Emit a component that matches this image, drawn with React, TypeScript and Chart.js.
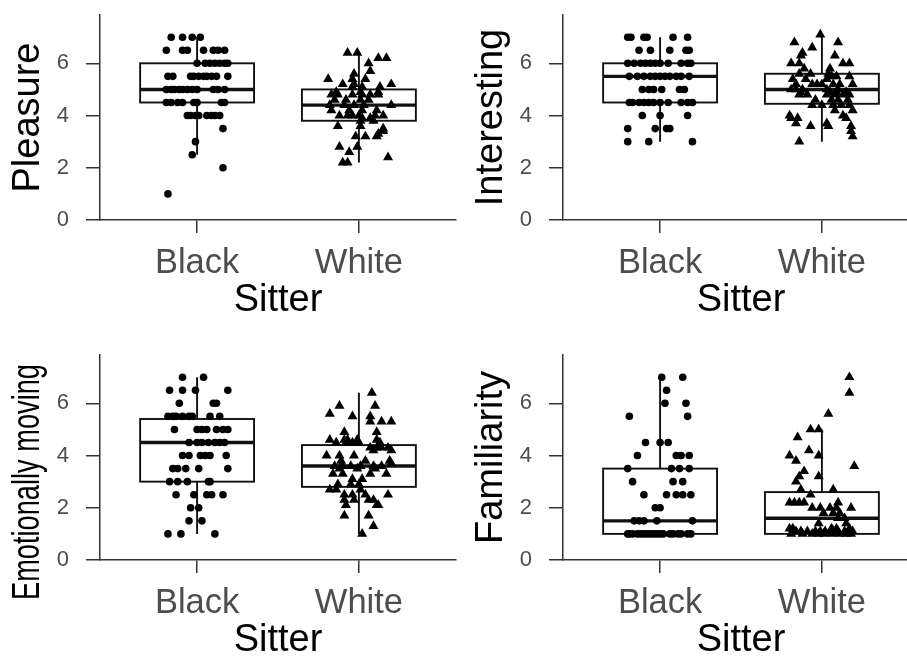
import React, { useEffect, useRef } from "react";
import { Chart, registerables } from "chart.js";
Chart.register(...registerables);

// ---------- data ----------
const categories = ["Black", "White"];
const categoryValues = [1, 2];
const yTickValues = [0, 2, 4, 6];
const xAxisTitle = "Sitter";
const panelTitles = ["Pleasure", "Interesting", "Emotionally moving", "Familiarity"];

// box stats: [lower whisker, q1, median, q3, upper whisker]
const pleasureBoxBlack = [2.5, 4.5, 5, 6, 7];
const pleasureBoxWhite = [2.2, 3.8, 4.4, 5.0, 6.4];
const interestingBoxBlack = [3, 4.5, 5.5, 6, 7];
const interestingBoxWhite = [3.0, 4.45, 5.0, 5.6, 7.1];
const emotionBoxBlack = [1, 3, 4.5, 5.4, 7];
const emotionBoxWhite = [1.0, 2.8, 3.6, 4.4, 6.4];
const familiarityBoxBlack = [1, 1, 1.5, 3.5, 7];
const familiarityBoxWhite = [1, 1, 1.6, 2.6, 5.0];

// jittered points: [value, jitter offsets from category centre]
type Rows = [number, number[]][];
const pleasureBlack: Rows = [
  [7, [-0.16, -0.09, -0.03, 0.02]],
  [6.5, [-0.19, -0.09, -0.06, 0.04, 0.1, 0.13, 0.17]],
  [6, [0.0, 0.05, 0.08, 0.11, 0.14, 0.17, 0.19]],
  [5.5, [-0.18, -0.15, -0.04, -0.02, 0.01, 0.04, 0.06, 0.09, 0.12, 0.19]],
  [5, [-0.19, -0.16, -0.14, -0.11, -0.09, -0.06, -0.03, 0.0, 0.1, 0.13, 0.17]],
  [4.5, [-0.19, -0.16, -0.12, -0.09, -0.02, 0.0, 0.15, 0.17]],
  [4, [-0.06, -0.04, -0.01, 0.01, 0.06, 0.09, 0.11, 0.14]],
  [3.5, [0.16]],
  [3, [-0.01]],
  [2.5, [-0.03]],
  [2, [0.16]],
  [1, [-0.18]],
];
const pleasureWhite: Rows = [
  [6.4, [-0.07, -0.01]],
  [6.2, [0.12, 0.17]],
  [6.0, [0.06]],
  [5.7, [0.07]],
  [5.6, [-0.03]],
  [5.4, [-0.19, -0.04, 0.04]],
  [5.2, [-0.1, -0.03, 0.2]],
  [5.1, [-0.04, 0.02, 0.13]],
  [4.9, [-0.14, 0.01, 0.12]],
  [4.8, [-0.17, -0.13, -0.04, 0.02, 0.07, 0.12]],
  [4.6, [-0.15, -0.08, 0.01, 0.06]],
  [4.4, [-0.18, -0.09, -0.03, 0.03, 0.2]],
  [4.2, [-0.17, -0.06, 0.02, 0.11]],
  [4.0, [-0.12, -0.07, -0.04, 0.0, 0.1, 0.15]],
  [3.9, [0.02, 0.07]],
  [3.8, [0.01, 0.09]],
  [3.6, [-0.13, 0.01]],
  [3.5, [0.15]],
  [3.4, [0.15]],
  [3.3, [0.12]],
  [3.2, [-0.02, 0.04, 0.11]],
  [2.8, [-0.12, -0.01]],
  [2.6, [-0.06]],
  [2.4, [0.18]],
  [2.2, [-0.1, -0.07]],
];
const interestingBlack: Rows = [
  [7, [-0.2, -0.18, -0.1, -0.08, 0.08, 0.17]],
  [6.5, [-0.13, -0.06, 0.06, 0.16, 0.18]],
  [6, [-0.2, -0.16, -0.12, -0.09, -0.06, -0.03, 0.0, 0.05, 0.13, 0.17, 0.19]],
  [5.5, [-0.19, -0.14, -0.1, -0.06, -0.03, 0.0, 0.03, 0.06, 0.1, 0.13, 0.18]],
  [5, [-0.11, -0.07, -0.04, 0.01, 0.12, 0.15]],
  [4.5, [-0.19, -0.17, -0.13, -0.1, -0.07, -0.04, 0.0, 0.05, 0.13, 0.17, 0.2]],
  [4, [-0.11, 0.0, 0.17]],
  [3.5, [-0.2, -0.03, 0.04, 0.06]],
  [3, [-0.2, -0.07, 0.2]],
];
const interestingWhite: Rows = [
  [7.1, [-0.01]],
  [6.8, [-0.17, 0.1]],
  [6.6, [-0.06]],
  [6.4, [-0.12]],
  [6.3, [-0.13, 0.08]],
  [6.0, [-0.19, -0.14, 0.13, 0.17]],
  [5.8, [-0.11, 0.05]],
  [5.6, [-0.14, -0.07, 0.04]],
  [5.5, [0.06, 0.09, 0.17]],
  [5.4, [-0.18, -0.1, 0.03]],
  [5.2, [-0.16, -0.06, -0.03, 0.0, 0.07, 0.11, 0.19]],
  [5.0, [-0.19, -0.16, -0.12, 0.03, 0.1]],
  [4.9, [-0.13, 0.05, 0.09, 0.15]],
  [4.8, [-0.14, -0.09, 0.03, 0.08, 0.13, 0.17]],
  [4.6, [-0.04, 0.06, 0.1, 0.16]],
  [4.4, [-0.06, 0.0, 0.07, 0.12, 0.17]],
  [4.2, [0.08, 0.19]],
  [4.0, [-0.2, 0.13]],
  [3.9, [-0.19, -0.15, 0.15]],
  [3.7, [-0.16, 0.03]],
  [3.6, [-0.07, 0.04, 0.18]],
  [3.4, [0.18]],
  [3.2, [0.19]],
  [3.0, [-0.14]],
];
const emotionBlack: Rows = [
  [7, [-0.09, 0.04]],
  [6.5, [-0.17, -0.09, -0.01, 0.19]],
  [6, [-0.11, 0.1, 0.12]],
  [5.5, [-0.18, -0.15, -0.13, -0.09, -0.05, -0.03, 0.08, 0.14]],
  [5, [-0.14, 0.0, 0.03, 0.06, 0.12, 0.16, 0.19]],
  [4.5, [-0.05, 0.0, 0.03, 0.07, 0.11, 0.14, 0.17]],
  [4, [-0.09, -0.05, 0.02, 0.05, 0.08, 0.18]],
  [3.5, [-0.15, -0.12, -0.07, 0.01, 0.19]],
  [3, [-0.17, -0.12, -0.06, 0.07, 0.08]],
  [2.5, [-0.13, -0.02, 0.06, 0.09, 0.16]],
  [2, [-0.04, 0.01]],
  [1.5, [-0.05, 0.03]],
  [1, [-0.18, -0.1, 0.11]],
];
const emotionWhite: Rows = [
  [6.4, [0.08]],
  [5.9, [-0.12, 0.1]],
  [5.6, [-0.18]],
  [5.5, [-0.04, 0.07]],
  [5.3, [0.07, 0.14, 0.2]],
  [4.9, [-0.09, 0.11]],
  [4.6, [-0.18, -0.09, -0.07, -0.01, 0.11]],
  [4.5, [-0.14, -0.08, -0.04, 0.0, 0.13]],
  [4.3, [0.07, 0.11, 0.14, 0.18]],
  [4.2, [0.09, 0.2]],
  [4.0, [-0.2, -0.12, -0.03]],
  [3.8, [-0.11, 0.04, 0.19]],
  [3.7, [0.2]],
  [3.6, [-0.15, -0.1, -0.05, 0.01, 0.09, 0.14]],
  [3.5, [-0.12, -0.01, 0.1]],
  [3.3, [-0.16, -0.1, 0.07, 0.17]],
  [3.1, [-0.04, 0.02]],
  [2.9, [-0.13, -0.05, 0.0]],
  [2.7, [-0.18, -0.14, 0.01]],
  [2.5, [-0.09, -0.04, 0.04, 0.18]],
  [2.3, [-0.09, -0.03, 0.06, 0.09]],
  [2.1, [-0.08, 0.11, 0.12]],
  [1.7, [-0.09, 0.06]],
  [1.3, [0.09]],
  [1.0, [0.02]],
];
const familiarityBlack: Rows = [
  [7, [0.01, 0.14]],
  [6.5, [0.04]],
  [6, [0.03, 0.16]],
  [5.5, [-0.19, 0.17]],
  [4.5, [-0.09, 0.0, 0.05]],
  [4, [-0.14, 0.1, 0.13, 0.18]],
  [3.5, [-0.2, 0.07, 0.12, 0.18]],
  [3, [-0.17, 0.08, 0.14]],
  [2.5, [-0.1, 0.04, 0.1, 0.14, 0.19]],
  [2, [-0.03, 0.0]],
  [1.5, [-0.16, -0.13, -0.1, -0.02, 0.2]],
  [1, [-0.2, -0.19, -0.17, -0.14, -0.12, -0.1, -0.08, -0.06, -0.04, -0.02, 0.0, 0.02, 0.06, 0.08, 0.11, 0.13, 0.17, 0.19]],
];
const familiarityWhite: Rows = [
  [7.0, [0.17]],
  [6.4, [0.17]],
  [5.6, [0.04]],
  [5.0, [-0.07, -0.02]],
  [4.7, [-0.15]],
  [4.2, [-0.08]],
  [4.0, [-0.2, -0.02]],
  [3.8, [-0.16]],
  [3.6, [0.2]],
  [3.4, [-0.11]],
  [3.2, [-0.14, -0.02]],
  [3.0, [-0.16]],
  [2.7, [-0.13, 0.07]],
  [2.5, [-0.07]],
  [2.2, [-0.2, -0.17, -0.14, -0.11, 0.1]],
  [2.0, [-0.06, -0.01, 0.05, 0.09, 0.18]],
  [1.8, [0.01, 0.07, 0.11]],
  [1.6, [0.1, 0.14]],
  [1.4, [-0.02, 0.15]],
  [1.2, [-0.2, -0.18, 0.06, 0.09, 0.17]],
  [1.1, [-0.16, -0.13, -0.09, -0.04, -0.01, 0.02, 0.05, 0.07, 0.1, 0.14, 0.17, 0.19]],
  [1.0, [-0.19, -0.12, -0.06, -0.02, 0.01, 0.06, 0.11, 0.15, 0.18]],
];

// ---------- layout / style ----------
const PANEL_W = 463;
const PANEL_H = 340;
const AREA_TOP = 15;
const AREA_BOTTOM = 220;
const AREA_LEFT = 100;
const AREA_RIGHT = 456;
const FONT = "'Liberation Sans', Arial, Helvetica, sans-serif";
const AXIS_COLOR = "#333333";
const TICK_TEXT = "#4d4d4d";
const BOX_HALF = 0.352;
const TITLE_SIZE = 38;

// custom title: centre (px, relative to panel) and squeeze width, or null = standard axis title
const panels = [
  { title: panelTitles[0], black: pleasureBlack, white: pleasureWhite, boxes: [pleasureBoxBlack, pleasureBoxWhite], custom: null as null | { cy: number; maxW: number } },
  { title: panelTitles[1], black: interestingBlack, white: interestingWhite, boxes: [interestingBoxBlack, interestingBoxWhite], custom: null },
  { title: panelTitles[2], black: emotionBlack, white: emotionWhite, boxes: [emotionBoxBlack, emotionBoxWhite], custom: { cy: 142, maxW: 236 } },
  { title: panelTitles[3], black: familiarityBlack, white: familiarityWhite, boxes: [familiarityBoxBlack, familiarityBoxWhite], custom: null },
];

function toPoints(rows: Rows, center: number) {
  const pts: { x: number; y: number }[] = [];
  rows.forEach(([v, js]) => js.forEach((j) => pts.push({ x: center + j, y: v })));
  return pts;
}

function makeBoxPlugin(boxes: number[][]) {
  return {
    id: "boxes",
    beforeDatasetsDraw(chart: any) {
      const { ctx } = chart;
      const xs = chart.scales.x;
      const ys = chart.scales.y;
      ctx.save();
      boxes.forEach((b, i) => {
        const c = categoryValues[i];
        const [lo, q1, med, q3, hi] = b;
        const xl = xs.getPixelForValue(c - BOX_HALF);
        const xr = xs.getPixelForValue(c + BOX_HALF);
        const xc = xs.getPixelForValue(c);
        ctx.strokeStyle = "#111111";
        ctx.lineWidth = 1.9;
        ctx.beginPath();
        ctx.moveTo(xc, ys.getPixelForValue(q3));
        ctx.lineTo(xc, ys.getPixelForValue(hi));
        ctx.moveTo(xc, ys.getPixelForValue(q1));
        ctx.lineTo(xc, ys.getPixelForValue(lo));
        ctx.stroke();
        const yt = ys.getPixelForValue(q3);
        const yb = ys.getPixelForValue(q1);
        ctx.fillStyle = "#ffffff";
        ctx.fillRect(xl, yt, xr - xl, yb - yt);
        ctx.strokeRect(xl, yt, xr - xl, yb - yt);
        ctx.lineWidth = 3.4;
        ctx.beginPath();
        const ym = ys.getPixelForValue(med);
        ctx.moveTo(xl, ym);
        ctx.lineTo(xr, ym);
        ctx.stroke();
      });
      ctx.restore();
    },
  };
}

function makeTitlePlugin(text: string, custom: null | { cy: number; maxW: number }) {
  return {
    id: "customYTitle",
    afterDraw(chart: any) {
      if (!custom) return;
      const { ctx } = chart;
      ctx.save();
      ctx.translate(TITLE_SIZE / 2 + 10, custom.cy);
      ctx.rotate(-Math.PI / 2);
      ctx.font = `${TITLE_SIZE}px ${FONT}`;
      ctx.fillStyle = "#000000";
      ctx.textAlign = "center";
      ctx.textBaseline = "middle";
      ctx.fillText(text, 0, 0, custom.maxW);
      ctx.restore();
    },
  };
}

export default function App() {
  const refs = [useRef<HTMLCanvasElement>(null), useRef<HTMLCanvasElement>(null), useRef<HTMLCanvasElement>(null), useRef<HTMLCanvasElement>(null)];

  useEffect(() => {
    const charts: Chart[] = [];
    panels.forEach((p, idx) => {
      const canvas = refs[idx].current;
      if (!canvas) return;
      const chart = new Chart(canvas, {
        type: "scatter",
        data: {
          datasets: [
            {
              data: toPoints(p.black, categoryValues[0]),
              pointStyle: "circle",
              pointRadius: 3.8,
              backgroundColor: "#000000",
              borderWidth: 0,
            },
            {
              data: toPoints(p.white, categoryValues[1]),
              pointStyle: "triangle",
              pointRadius: 5.8,
              backgroundColor: "#000000",
              borderColor: "#000000",
              borderWidth: 0,
            },
          ],
        },
        options: {
          animation: false,
          responsive: false,
          devicePixelRatio: 1,
          events: [],
          layout: { padding: { top: AREA_TOP, right: PANEL_W - AREA_RIGHT, left: 0, bottom: 0 } },
          plugins: { legend: { display: false }, tooltip: { enabled: false } },
          scales: {
            x: {
              type: "linear",
              min: 0.4,
              max: 2.6,
              afterBuildTicks: (s: any) => {
                s.ticks = categoryValues.map((v) => ({ value: v }));
              },
              afterFit: (s: any) => {
                s.height = PANEL_H - AREA_BOTTOM;
                s.paddingLeft = 0;
                s.paddingRight = 0;
              },
              ticks: {
                callback: (v: any) => categories[categoryValues.indexOf(Number(v))] ?? "",
                color: TICK_TEXT,
                font: { family: FONT, size: 34.5, lineHeight: 1 },
                padding: 13,
                maxRotation: 0,
                autoSkip: false,
              },
              grid: { display: true, drawOnChartArea: false, drawTicks: true, tickLength: 13, color: AXIS_COLOR, lineWidth: 1.5 },
              border: { display: true, color: AXIS_COLOR, width: 1.5 },
              title: {
                display: true,
                text: xAxisTitle,
                color: "#000000",
                font: { family: FONT, size: TITLE_SIZE, lineHeight: 1 },
                padding: { top: 0, bottom: 20 },
              },
            },
            y: {
              type: "linear",
              min: 0,
              max: 7.85,
              afterBuildTicks: (s: any) => {
                s.ticks = yTickValues.map((v) => ({ value: v }));
              },
              afterFit: (s: any) => {
                s.width = AREA_LEFT;
                s.paddingTop = 0;
                s.paddingBottom = 0;
              },
              ticks: {
                color: TICK_TEXT,
                font: { family: FONT, size: 22, lineHeight: 1 },
                padding: 17,
              },
              grid: { display: true, drawOnChartArea: false, drawTicks: true, tickLength: 14, color: AXIS_COLOR, lineWidth: 1.5 },
              border: { display: true, color: AXIS_COLOR, width: 1.5 },
              title: {
                display: !p.custom,
                text: p.title,
                color: "#000000",
                font: { family: FONT, size: TITLE_SIZE, lineHeight: 1 },
                padding: { top: 10, bottom: 0 },
              },
            },
          },
        } as any,
        plugins: [makeBoxPlugin(p.boxes), makeTitlePlugin(p.title, p.custom)],
      });
      charts.push(chart);
    });
    return () => charts.forEach((c) => c.destroy());
  }, []);

  return (
    <div style={{ position: "fixed", left: 0, top: 0, width: 907, height: 656, overflow: "hidden", background: "#ffffff" }}>
      {panels.map((_, i) => (
        <canvas
          key={i}
          ref={refs[i]}
          width={PANEL_W}
          height={PANEL_H}
          style={{ position: "absolute", left: (i % 2) * PANEL_W, top: Math.floor(i / 2) * PANEL_H, width: PANEL_W, height: PANEL_H }}
        />
      ))}
    </div>
  );
}
